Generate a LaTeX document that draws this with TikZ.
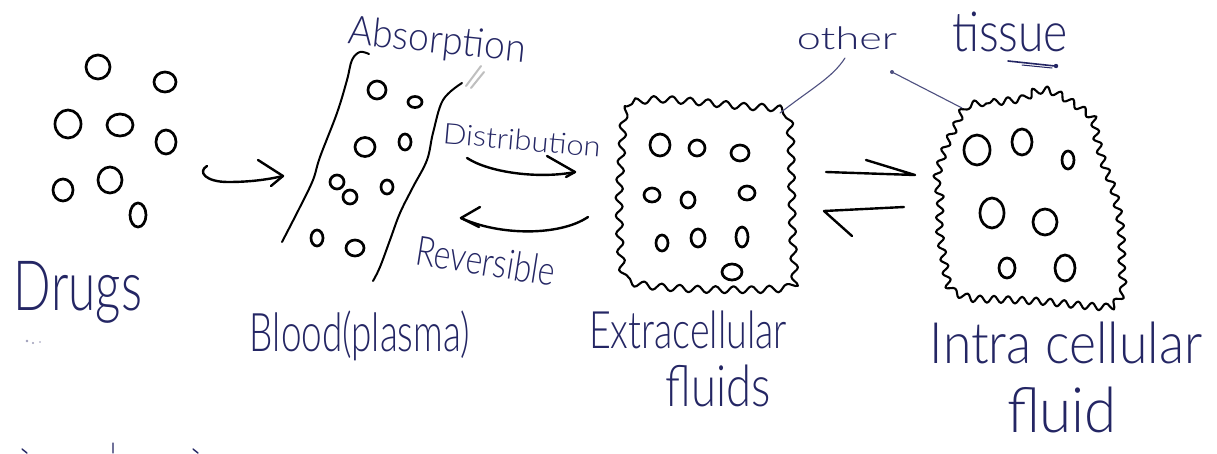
\documentclass[tikz,border=0pt]{standalone}
\usepackage{fontspec}
\IfFontExistsTF{Lato Light}{\setmainfont{Lato Light}}{\setmainfont{Open Sans}}
\usetikzlibrary{decorations.pathmorphing}
\definecolor{ink}{RGB}{36,38,100}
\definecolor{thinink}{RGB}{78,80,128}
% hand-lettered label squeezed into a given width and total height
\newcommand{\hw}[3]{\resizebox*{#1}{#2}{#3}}

\begin{document}
\begin{tikzpicture}[x=1pt,y=-1pt,
  drop/.style={line width=2.7pt, black},
  pen/.style={line width=2.4pt, black, line cap=round, line join=round},
  wavy/.style={pen, line width=2.1pt, decorate,
    decoration={snake, segment length=#1, amplitude=3.5pt}},
  wavy/.default=17pt,
  lbl/.style={inner sep=0pt, text=ink},
  lead/.style={thinink, line width=1.1pt, line cap=round}]

\fill[white] (0,0) rectangle (1217,453);
\useasboundingbox (0,0) rectangle (1217,453);

% ---------- free drug molecules ----------
\draw[drop] (98,67) ellipse [x radius=12pt, y radius=12pt];
\draw[drop] (165,82) ellipse [x radius=11pt, y radius=10pt];
\draw[drop] (68,124) ellipse [x radius=13pt, y radius=14pt];
\draw[drop] (120,125) ellipse [x radius=13pt, y radius=11pt];
\draw[drop] (166,142) ellipse [x radius=10pt, y radius=12pt];
\draw[drop] (63,190) ellipse [x radius=10pt, y radius=11pt];
\draw[drop] (110,180) ellipse [x radius=12pt, y radius=13pt];
\draw[drop] (138,215) ellipse [x radius=8pt, y radius=12pt];

\node[lbl] (drugs) at (78,292) {\hw{128pt}{62pt}{Drugs}};
\fill[ink!45] (27,341) circle (1.3pt) (33,343) circle (1.1pt) (40,342) circle (0.8pt);

% absorption arrow
\coordinate (ab0) at (207,166);
\coordinate (ab1) at (283,176);
\draw[pen] (ab0) .. controls (197,172) and (206,182) .. (228,182)
  .. controls (248,182) and (266,180) .. (ab1);
\draw[pen] (258,160) -- (ab1) -- (271,186);

% ---------- blood vessel ----------
\draw[pen, line width=2pt] plot[smooth, tension=0.6] coordinates
  {(369,54) (360,52) (352,60) (347,80) (337,113) (320,157) (313,180) (300,207) (282,242)};
\draw[pen, line width=2pt] plot[smooth, tension=0.6] coordinates
  {(462,83) (443,100) (433,133) (427,160) (413,187) (400,213) (390,240) (380,267) (373,281)};
\draw[black!25, line width=2pt, line cap=round] (466,86) -- (481,66) (471,88) -- (484,72);

\draw[drop] (377,90) ellipse [x radius=9pt, y radius=9pt];
\draw[drop] (415,102) ellipse [x radius=7pt, y radius=5.5pt];
\draw[drop] (365,147) ellipse [x radius=10pt, y radius=9.5pt];
\draw[drop] (405,142) ellipse [x radius=6pt, y radius=8pt];
\draw[drop] (337,182) ellipse [x radius=7pt, y radius=7pt];
\draw[drop] (350,197) ellipse [x radius=7pt, y radius=7pt];
\draw[drop] (387,187) ellipse [x radius=6pt, y radius=7pt];
\draw[drop] (317,238) ellipse [x radius=6pt, y radius=8pt];
\draw[drop] (355,248) ellipse [x radius=9pt, y radius=8pt];

\node[lbl, rotate=-6] (absorption) at (437,42) {\hw{178pt}{36pt}{Absorption}};
\node[lbl] (blood) at (360,336) {\hw{220pt}{50pt}{Blood(plasma)}};

% ---------- distribution / reversible arrows ----------
\node[lbl, rotate=-5] (distribution) at (522,140) {\hw{158pt}{21pt}{Distribution}};
\coordinate (d0) at (467,158);
\coordinate (d1) at (575,172);
\draw[pen] (d0) .. controls (490,173) and (540,179) .. (d1);
\draw[pen] (547,156) -- (d1) -- (566,177);

\coordinate (r0) at (588,217);
\coordinate (r1) at (461,218);
\draw[pen] (r0) .. controls (560,236) and (500,236) .. (r1);
\draw[pen] (480,207) -- (r1) -- (479,227);
\node[lbl, rotate=-9] (reversible) at (486,261) {\hw{140pt}{30pt}{Reversible}};

% ---------- extracellular compartment ----------
\draw[wavy=18pt] plot[smooth cycle, tension=0.35] coordinates
  {(621,122) (632,104) (660,101) (700,104) (740,108) (781,112)
   (786,140) (787,190) (788,240) (789,288) (760,293) (700,293)
   (650,290) (622,283) (617,250) (616,200) (619,150)};

\draw[drop] (660,145) ellipse [x radius=10pt, y radius=11pt];
\draw[drop] (697,148) ellipse [x radius=8pt, y radius=8pt];
\draw[drop] (740,153) ellipse [x radius=9pt, y radius=8pt];
\draw[drop] (652,195) ellipse [x radius=8pt, y radius=7pt];
\draw[drop] (688,200) ellipse [x radius=7pt, y radius=8pt];
\draw[drop] (747,193) ellipse [x radius=8pt, y radius=7pt];
\draw[drop] (662,243) ellipse [x radius=6pt, y radius=8pt];
\draw[drop] (698,238) ellipse [x radius=7pt, y radius=9pt];
\draw[drop] (742,237) ellipse [x radius=6pt, y radius=10pt];
\draw[drop] (732,272) ellipse [x radius=10pt, y radius=8pt];

\node[lbl] (ecf) at (688,330) {\hw{198pt}{38pt}{Extracellular}};
\node[lbl] (ecfb) at (718,386) {\hw{105pt}{42pt}{fluids}};

% ---------- equilibrium harpoons ----------
\coordinate (h0) at (826,172);
\coordinate (h1) at (915,175);
\draw[pen] (h0) -- (h1) -- (866,160);
\coordinate (h2) at (904,207);
\coordinate (h3) at (824,211);
\draw[pen] (h2) -- (h3) -- (852,236);

% ---------- intracellular compartment ----------
\draw[wavy=14pt] plot[smooth cycle, tension=0.35] coordinates
  {(963,108) (990,103) (1020,99) (1033,91) (1046,90) (1060,96)
   (1090,117) (1095,140) (1102,165) (1112,192) (1118,220) (1120,245)
   (1120,270) (1121,293) (1108,308) (1080,307) (1040,303) (1000,301)
   (970,300) (948,291) (942,263) (937,230) (938,200) (934,180)
   (943,148) (953,127)};

\draw[drop] (977,150) ellipse [x radius=13pt, y radius=15pt];
\draw[drop] (1022,142) ellipse [x radius=10pt, y radius=13pt];
\draw[drop] (1068,160) ellipse [x radius=6pt, y radius=9pt];
\draw[drop] (992,213) ellipse [x radius=12pt, y radius=15pt];
\draw[drop] (1045,222) ellipse [x radius=12pt, y radius=13pt];
\draw[drop] (1007,268) ellipse [x radius=8pt, y radius=10pt];
\draw[drop] (1065,268) ellipse [x radius=10pt, y radius=13pt];

\node[lbl] (icf) at (1066,343) {\hw{272pt}{42pt}{Intra cellular}};
\node[lbl] (icfb) at (1062,410) {\hw{110pt}{46pt}{fluid}};

% ---------- tissue labels and leaders ----------
\node[lbl] (other) at (847,38) {\hw{100pt}{23pt}{other}};
\node[lbl] (tissue) at (1010,32) {\hw{116pt}{40pt}{tissue}};
\draw[ink, line width=1.6pt, line cap=round] (1008,61) -- (1055,66);
\draw[ink, line width=1pt, line cap=round] (1022,65) -- (1052,68);
\fill[ink] (1056,66) circle (2.2pt);

\coordinate (l0) at (845,58);
\coordinate (l1) at (780,113);
\draw[lead] (l0) .. controls (832,78) and (812,88) .. (l1);
\coordinate (l2) at (892,72);
\coordinate (l3) at (962,108);
\draw[lead] (l2) -- (l3);
\fill[thinink] (l2) circle (2pt);

% scraps of writing cut off at the lower edge
\draw[ink, line width=1.4pt, line cap=round] (22,449) -- (27,453) (113,443) -- (113,453) (193,449) -- (198,453);
\end{tikzpicture}
\end{document}
